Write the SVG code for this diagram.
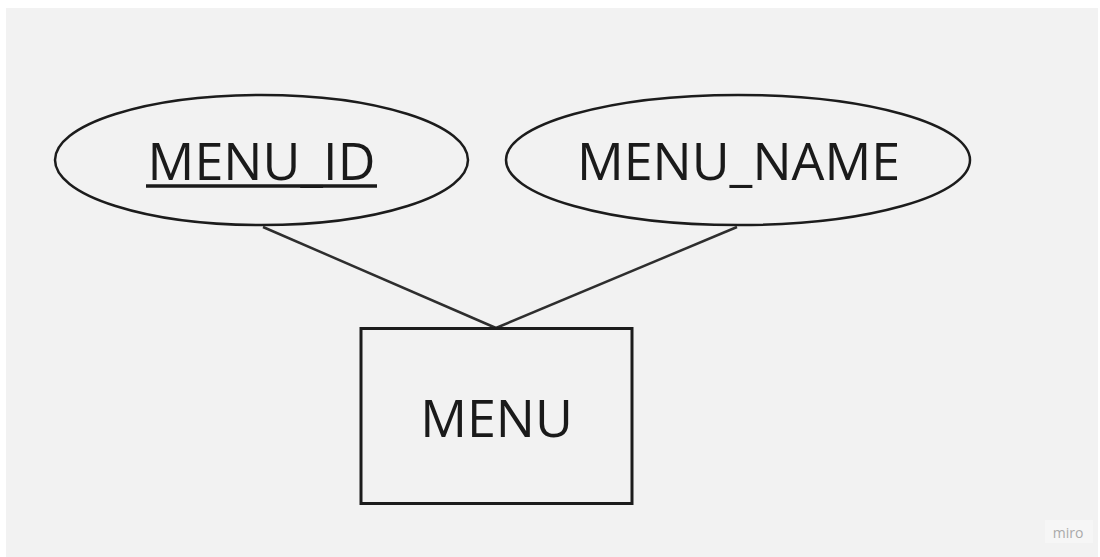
<svg xmlns="http://www.w3.org/2000/svg" width="1100" height="557" viewBox="0 0 1100 557">
  <style>
    .shape { fill: none; stroke: #1c1c1c; stroke-width: 2.5; }
    .box { fill: none; stroke: #1c1c1c; stroke-width: 3; }
    .label { font-family: "Open Sans", "Noto Sans", sans-serif; font-size: 52px; fill: #1a1a1a; text-anchor: middle; }
    .link { stroke: #2e2e2e; stroke-width: 2.5; fill: none; }
  </style>
  <!-- canvas -->
  <rect x="0" y="0" width="1100" height="557" fill="#ffffff"/>
  <rect x="6" y="8" width="1092" height="549" fill="#f2f2f2"/>

  <g id="connectors">
    <line class="link" x1="263" y1="227" x2="496" y2="328"/>
    <line class="link" x1="737" y1="227" x2="496" y2="328"/>
  </g>

  <g id="menu-id">
    <ellipse class="shape" cx="261.5" cy="160" rx="206.5" ry="65"/>
    <text class="label" x="261.5" y="180">MENU_ID</text>
    <line x1="146" y1="186" x2="377" y2="186" stroke="#1a1a1a" stroke-width="3.5"/>
  </g>

  <g id="menu-name">
    <ellipse class="shape" cx="738" cy="160" rx="232" ry="65"/>
    <text class="label" x="738.5" y="180">MENU_NAME</text>
  </g>

  <g id="menu">
    <rect class="box" x="361" y="328.5" width="271" height="175"/>
    <text class="label" x="496.5" y="437">MENU</text>
  </g>

  <g id="watermark">
    <rect x="1045" y="520" width="48" height="23" fill="#f6f6f6"/>
    <text x="1068" y="538" font-family="Open Sans, sans-serif" font-size="14" fill="#aaaaaa" text-anchor="middle">miro</text>
  </g>
</svg>
